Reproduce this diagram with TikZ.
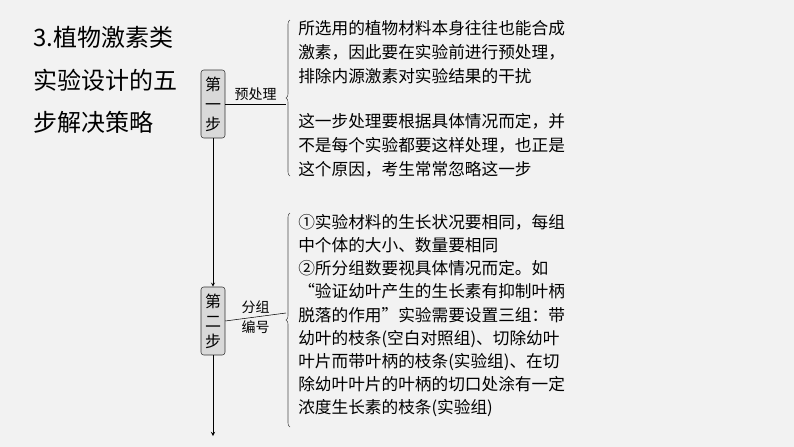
\documentclass[tikz,border=0pt]{standalone}
\usepackage{fontspec}
\setmainfont{Noto Sans CJK SC}
\usetikzlibrary{decorations.pathreplacing,positioning}
\tikzset{
  stepbox/.style={draw=black!80,fill=black!15,rounded corners=2pt,minimum width=18pt,minimum height=51pt,inner sep=1pt,align=center,font=\fontsize{12}{15}\selectfont},
  body/.style={anchor=north west,align=left,inner sep=0pt,font=\fontsize{12.5}{18}\selectfont},
  lbl/.style={font=\fontsize{10.5}{15}\selectfont,align=center},
  brace/.style={decorate,decoration={brace,amplitude=3pt,mirror},draw=black!70}
}
\begin{document}
\begin{tikzpicture}[x=0.75pt,y=-0.75pt,>=stealth]
    \fill[black!5] (0,0) rectangle (794,447);
    \useasboundingbox (0,0) rectangle (794,447);

    \node[anchor=north west,align=left,inner sep=0pt,font=\fontsize{18}{32}\selectfont] (title) at (33,26) {3.植物激素类\\实验设计的五\\步解决策略};

    \node[stepbox] (s1) at (213,104) {第\\一\\步};
    \node[stepbox] (s2) at (213,321) {第\\二\\步};
    \coordinate (end) at (213,436);
    \draw[->] (s1) -- (s2);
    \draw[->] (s2) -- (end);

    \coordinate (b1) at (286,104);
    \coordinate (b2) at (286,313);
    \draw (s1.east) -- (b1) node[lbl,midway,above=-1pt] {预处理};
    \draw (s2.east) -- (b2) node[lbl,midway] {分组\\编号};
    \draw[brace] (290,20) -- (290,176);
    \draw[brace] (290,213) -- (290,427);

    \node[body] (t1) at (298,20) {所选用的植物材料本身往往也能合成\\激素，因此要在实验前进行预处理，\\排除内源激素对实验结果的干扰};
    \node[body] (t2) at (298,113) {这一步处理要根据具体情况而定，并\\不是每个实验都要这样处理，也正是\\这个原因，考生常常忽略这一步};
    \node[body,font=\fontsize{12.5}{17.4}\selectfont] (t3) at (298,214) {①实验材料的生长状况要相同，每组\\中个体的大小、数量要相同\\②所分组数要视具体情况而定。如\\“验证幼叶产生的生长素有抑制叶柄\\脱落的作用”实验需要设置三组：带\\幼叶的枝条(空白对照组)、切除幼叶\\叶片而带叶柄的枝条(实验组)、在切\\除幼叶叶片的叶柄的切口处涂有一定\\浓度生长素的枝条(实验组)};
\end{tikzpicture}
\end{document}
